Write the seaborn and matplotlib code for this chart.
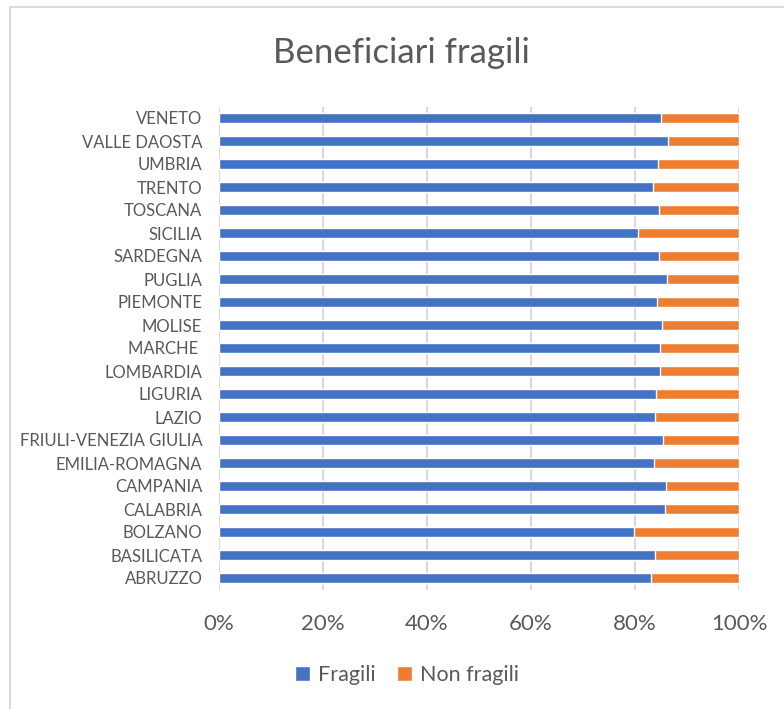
import pandas as pd
import matplotlib.pyplot as plt
import seaborn as sns
from matplotlib.lines import Line2D
from matplotlib.patches import Patch
from matplotlib.ticker import PercentFormatter

sns.set_theme(style="white")
plt.rcParams["font.family"] = ["Lato", "DejaVu Sans"]

# regions listed from top to bottom as drawn
regions = ["VENETO", "VALLE DAOSTA", "UMBRIA", "TRENTO", "TOSCANA", "SICILIA",
           "SARDEGNA", "PUGLIA", "PIEMONTE", "MOLISE", "MARCHE ", "LOMBARDIA",
           "LIGURIA", "LAZIO", "FRIULI-VENEZIA GIULIA", "EMILIA-ROMAGNA",
           "CAMPANIA", "CALABRIA", "BOLZANO", "BASILICATA", "ABRUZZO"]
fragili = [85.0, 86.4, 84.5, 83.4, 84.6, 80.6, 84.6, 86.2, 84.3, 85.1, 84.9,
           84.8, 84.0, 83.8, 85.3, 83.6, 86.0, 85.8, 79.9, 83.9, 83.1]
non_fragili = [100 - v for v in fragili]

df = pd.DataFrame({"regione": regions, "Fragili": fragili, "Non fragili": non_fragili})
df["totale"] = df["Fragili"] + df["Non fragili"]

blue = "#4472C4"
orange = "#ED7D31"
text_gray = "#595959"
grid_gray = "#D9D9D9"

fig = plt.figure(figsize=(7.84, 7.09), dpi=100)
ax = fig.add_axes([219 / 784, 119.5 / 709, 520 / 784, 483 / 709])

sns.barplot(data=df, y="regione", x="totale", color=orange, orient="h",
            width=0.4, saturation=1, ax=ax, zorder=3)
sns.barplot(data=df, y="regione", x="Fragili", color=blue, orient="h",
            width=0.4, saturation=1, ax=ax, zorder=4)

ax.set_xlim(0, 100)
ax.set_ylim(20.5, -0.5)
ax.set_xticks(range(0, 101, 20))
ax.xaxis.set_major_formatter(PercentFormatter(decimals=0))
ax.grid(True, axis="x", color=grid_gray, linewidth=1.5, zorder=0)
ax.grid(False, axis="y")
for s in ax.spines.values():
    s.set_visible(False)
ax.set_xlabel("")
ax.set_ylabel("")
ax.tick_params(axis="x", labelsize=16, colors=text_gray, pad=18, length=0)
ax.tick_params(axis="y", labelsize=12, colors=text_gray, pad=12, length=0)

fig.text(401 / 784, 1 - 53 / 709, "Beneficiari fragili", ha="center", va="center",
         fontsize=25, color=text_gray)

handles = [Patch(facecolor=blue, label="Fragili"),
           Patch(facecolor=orange, label="Non fragili")]
fig.legend(handles=handles, loc="center", bbox_to_anchor=(407 / 784, 1 - 675 / 709),
           ncol=2, frameon=False, fontsize=15.5, labelcolor=text_gray,
           handlelength=0.7, handleheight=0.7, handletextpad=0.35, columnspacing=1.0)

# chart area border (left and top edges visible)
fig.add_artist(Line2D([10 / 784, 10 / 784], [0, 1 - 7 / 709], color=grid_gray,
                      linewidth=1.5, transform=fig.transFigure))
fig.add_artist(Line2D([10 / 784, 1], [1 - 7 / 709, 1 - 7 / 709], color=grid_gray,
                      linewidth=1.5, transform=fig.transFigure))

fig.savefig("out.png", dpi=100)
